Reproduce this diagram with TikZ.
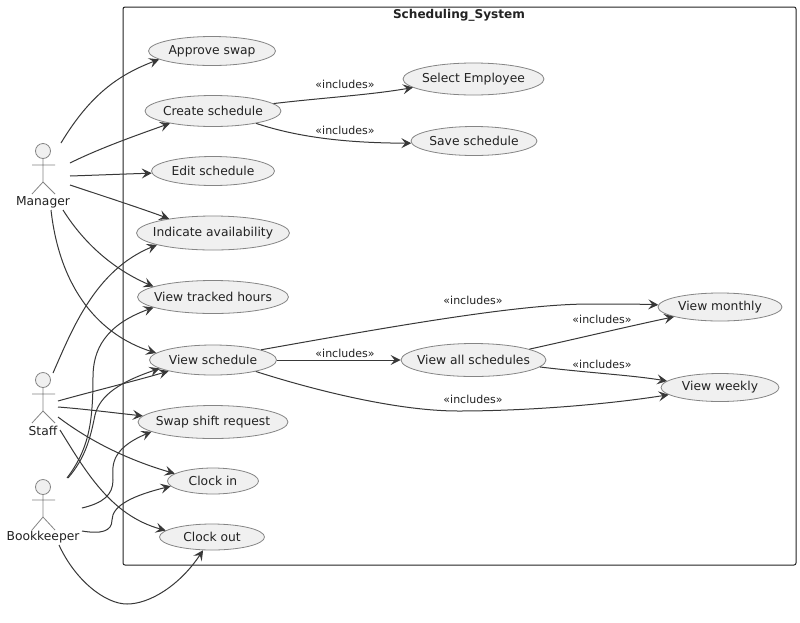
\documentclass[tikz,border=0pt]{standalone}
\usepackage{fontspec}
\setmainfont{DejaVu Sans}
\usetikzlibrary{shapes.geometric,arrows.meta}
\definecolor{ink}{HTML}{222222}
\tikzset{
  uc/.style n args={2}{ellipse,draw=black!48,line width=0.8pt,fill=black!6,inner xsep=-12pt,inner ysep=-5pt,minimum width=#1,minimum height=#2,text=ink,font=\fontsize{12.3}{15}\selectfont},
  lnk/.style={draw=ink!90,line width=1pt,-{Stealth[length=10pt,width=10pt,inset=4pt]}},
  inc/.style={text=ink,inner sep=0pt,font=\fontsize{11}{13}\selectfont},
  who/.style={text=ink,inner sep=0pt,font=\fontsize{12.3}{15}\selectfont},
  fig/.style={draw=black!48,line width=0.8pt},
  head/.style={circle,draw=black!48,line width=0.8pt,fill=black!6,inner sep=0pt,minimum size=15pt},
}
\begin{document}
\begin{tikzpicture}[x=1pt,y=-1pt]
\useasboundingbox (0,0) rectangle (800,622);
\fill[white] (0,0) rectangle (800,622);
\draw[ink,line width=1pt,rounded corners=2pt] (123,7) rectangle (796,565);
\node[text=ink,inner sep=0pt,font=\fontsize{12.1}{15}\bfseries\selectfont] (title) at (459,15) {Scheduling\_System};

\node[uc={127pt}{29pt}] (approve) at (212,51) {Approve swap};
\node[uc={136pt}{31pt}] (create) at (213,111) {Create schedule};
\node[uc={123pt}{29pt}] (edit) at (213,171) {Edit schedule};
\node[uc={153pt}{34pt}] (indicate) at (213,233) {Indicate availability};
\node[uc={151pt}{33pt}] (tracked) at (213,297) {View tracked hours};
\node[uc={127pt}{30pt}] (view) at (213,360) {View schedule};
\node[uc={150pt}{33pt}] (swap) at (213,422) {Swap shift request};
\node[uc={91pt}{26pt}] (clockin) at (213,481) {Clock in};
\node[uc={105pt}{26pt}] (clockout) at (212,537) {Clock out};
\node[uc={141pt}{32pt}] (select) at (473.5,79) {Select Employee};
\node[uc={126pt}{29pt}] (save) at (474,141) {Save schedule};
\node[uc={145pt}{33pt}] (all) at (473.5,360) {View all schedules};
\node[uc={124pt}{28pt}] (monthly) at (720,307) {View monthly};
\node[uc={118pt}{28pt}] (weekly) at (720,387.5) {View weekly};

% actors
\node[head] (mh) at (43,151) {};
\draw[fig] (mh.south) -- (43,182) -- (32,194) (43,182) -- (55,194) (32,165) -- (55,165);
\node[who] (mgr) at (43,202) {Manager};
\node[head] (sh) at (43,380) {};
\draw[fig] (sh.south) -- (43,411) -- (32,423) (43,411) -- (55,423) (32,394) -- (55,394);
\node[who] (staff) at (43,431) {Staff};
\node[head] (bh) at (43,487) {};
\draw[fig] (bh.south) -- (43,517) -- (32,530) (43,517) -- (55,530) (32,500) -- (55,500);
\node[who] (book) at (43,537) {Bookkeeper};

% free ends
\coordinate (m1) at (61,143); \coordinate (m2) at (70,163); \coordinate (m3) at (70,176);
\coordinate (m4) at (70,185); \coordinate (m5) at (63,210); \coordinate (m6) at (51,210);
\coordinate (s1) at (53,373); \coordinate (s2) at (58,401); \coordinate (s3) at (58,407);
\coordinate (s4) at (58,417); \coordinate (s5) at (60,430);
\coordinate (b1) at (67,478); \coordinate (b2) at (68,478); \coordinate (b3) at (82,508);
\coordinate (b4) at (82,531); \coordinate (b5) at (59,545);

\draw[lnk] (m1) .. controls (90,95) and (118,75) .. (approve.189);
\draw[lnk] (m2) .. controls (100,148) and (140,134) .. (create.196);
\draw[lnk] (m3) .. controls (100,175) and (125,174) .. (edit.182);
\draw[lnk] (m4) .. controls (100,195) and (140,208) .. (indicate.162);
\draw[lnk] (m5) .. controls (85,245) and (115,270) .. (tracked.170);
\draw[lnk] (m6) .. controls (60,290) and (100,335) .. (view.173);

\draw[lnk] (s1) .. controls (72,330) and (95,270) .. (indicate.192);
\draw[lnk] (s2) .. controls (90,392) and (135,381) .. (view.194);
\draw[lnk] (s3) .. controls (85,409) and (115,413) .. (swap.175);
\draw[lnk] (s4) .. controls (95,445) and (135,462) .. (clockin.169);
\draw[lnk] (s5) .. controls (85,470) and (110,515) .. (clockout.172);

\draw[lnk] (b1) .. controls (88,450) and (93,425) .. (93,377) .. controls (93,350) and (105,325) .. (tracked.190);
\draw[lnk] (b2) .. controls (85,458) and (90,440) .. (95,415) .. controls (100,395) and (120,382) .. (view.189);
\draw[lnk] (b3) .. controls (103,503) and (113,495) .. (113,480) .. controls (113,468) and (108,450) .. (swap.189);
\draw[lnk] (b4) .. controls (100,534) and (112,532) .. (112,520) .. controls (112,505) and (135,495) .. (clockin.187);
\draw[lnk] (b5) .. controls (75,580) and (105,604) .. (127,604) .. controls (150,604) and (180,585) .. (clockout.236);

\draw[lnk] (create.7) .. controls (320,98) and (370,95) .. (select.188);
\draw[lnk] (create.-16) .. controls (300,138) and (350,143) .. (save.182);
\draw[lnk] (view.12) .. controls (400,325) and (520,304) .. (590,304) .. controls (610,304) and (640,304) .. (monthly.178);
\draw[lnk] (view.0) -- (all.180);
\draw[lnk] (view.-15) .. controls (320,392) and (400,411) .. (458,411) .. controls (530,411) and (610,404) .. (weekly.188);
\draw[lnk] (all.11) .. controls (580,338) and (630,326) .. (monthly.192);
\draw[lnk] (all.-6) .. controls (590,373) and (630,375) .. (weekly.173);

\node[inc] (l1) at (345,84) {«includes»};
\node[inc] (l2) at (345,130) {«includes»};
\node[inc] (l3) at (473,300) {«includes»};
\node[inc] (l4) at (345,353) {«includes»};
\node[inc] (l5) at (473,399) {«includes»};
\node[inc] (l6) at (602,319) {«includes»};
\node[inc] (l7) at (602,364) {«includes»};
\end{tikzpicture}
\end{document}
